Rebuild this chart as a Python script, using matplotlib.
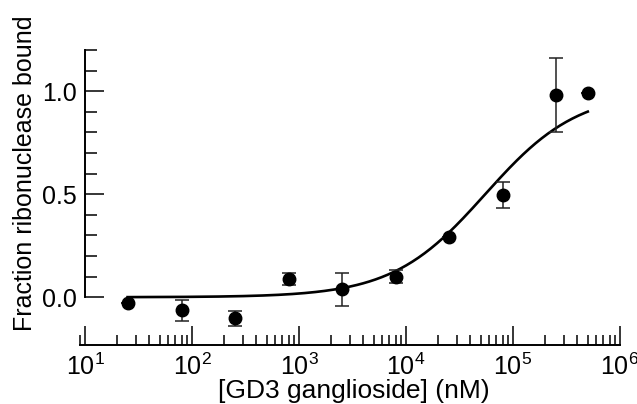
import numpy as np
import matplotlib
matplotlib.use("Agg")
import matplotlib.pyplot as plt
from matplotlib.ticker import LogLocator, FixedLocator, NullFormatter

plt.rcParams["font.family"] = ["Liberation Sans", "DejaVu Sans"]
plt.rcParams["mathtext.fontset"] = "custom"
plt.rcParams["mathtext.rm"] = "Liberation Sans"
plt.rcParams["mathtext.it"] = "Liberation Sans:italic"

# GD3 ganglioside concentration (nM) and fraction of ribonuclease bound
conc_nM = [25, 80, 250, 800, 2500, 8000, 25000, 80000, 250000, 500000]
frac_bound = [-0.03, -0.063, -0.102, 0.087, 0.039, 0.10, 0.29, 0.495, 0.98, 0.99]
frac_err = [0.0, 0.051, 0.036, 0.029, 0.08, 0.03, 0.0, 0.063, 0.18, 0.0]

# single-site binding fit
kd_nM = 55000.0
bmax = 1.0

fig = plt.figure(figsize=(6.37, 4.04), dpi=100)
ax = fig.add_axes([80 / 637, 59 / 404, 540 / 637, 295 / 404])

xfit = np.logspace(np.log10(conc_nM[0]), np.log10(conc_nM[-1]), 300)
yfit = bmax * xfit / (kd_nM + xfit)
ax.plot(xfit, yfit, color="black", lw=1.9, zorder=2)

ax.errorbar(conc_nM, frac_bound, yerr=frac_err, fmt="o", color="black",
            ecolor="#222222", elinewidth=1.1, capsize=4.7, capthick=1.1,
            markersize=9, zorder=3)

ax.set_xscale("log")
ax.set_xlim(10 ** (1 - 5 / 107), 1e6)
ax.set_ylim(-0.232, 1.2)

for s in ("top", "right"):
    ax.spines[s].set_visible(False)
ax.spines["left"].set_position(("data", 10))
ax.spines["left"].set_bounds(0, 1.2)
ax.spines["left"].set_linewidth(1.4)
ax.spines["bottom"].set_linewidth(1.4)

ax.xaxis.set_major_locator(LogLocator(base=10, numticks=10))
ax.xaxis.set_minor_locator(LogLocator(base=10, subs=np.arange(2, 10), numticks=20))
ax.xaxis.set_minor_formatter(NullFormatter())
ax.set_yticks([0.0, 0.5, 1.0])
ax.set_yticklabels(["0.0", "0.5", "1.0"])
ax.yaxis.set_minor_locator(FixedLocator([0.1, 0.2, 0.3, 0.4, 0.6, 0.7, 0.8, 0.9, 1.1, 1.2]))

ax.tick_params(which="both", direction="in", width=1.1, labelsize=18, color="black")
ax.tick_params(which="major", length=14, pad=6)
ax.tick_params(which="minor", length=7.5)
ax.tick_params(axis="y", which="minor", length=8.5)

ax.set_xlabel("[GD3 ganglioside] (nM)", fontsize=19)
ax.xaxis.set_label_coords((354 - 80) / 540, -(404 - 345 - 1) / 295)
ax.xaxis.label.set_va("bottom")
ax.set_ylabel("Fraction ribonuclease bound", fontsize=18)
ax.yaxis.set_label_coords(-0.08, (345 - 173) / 295)

fig.savefig("out.png", dpi=100)
